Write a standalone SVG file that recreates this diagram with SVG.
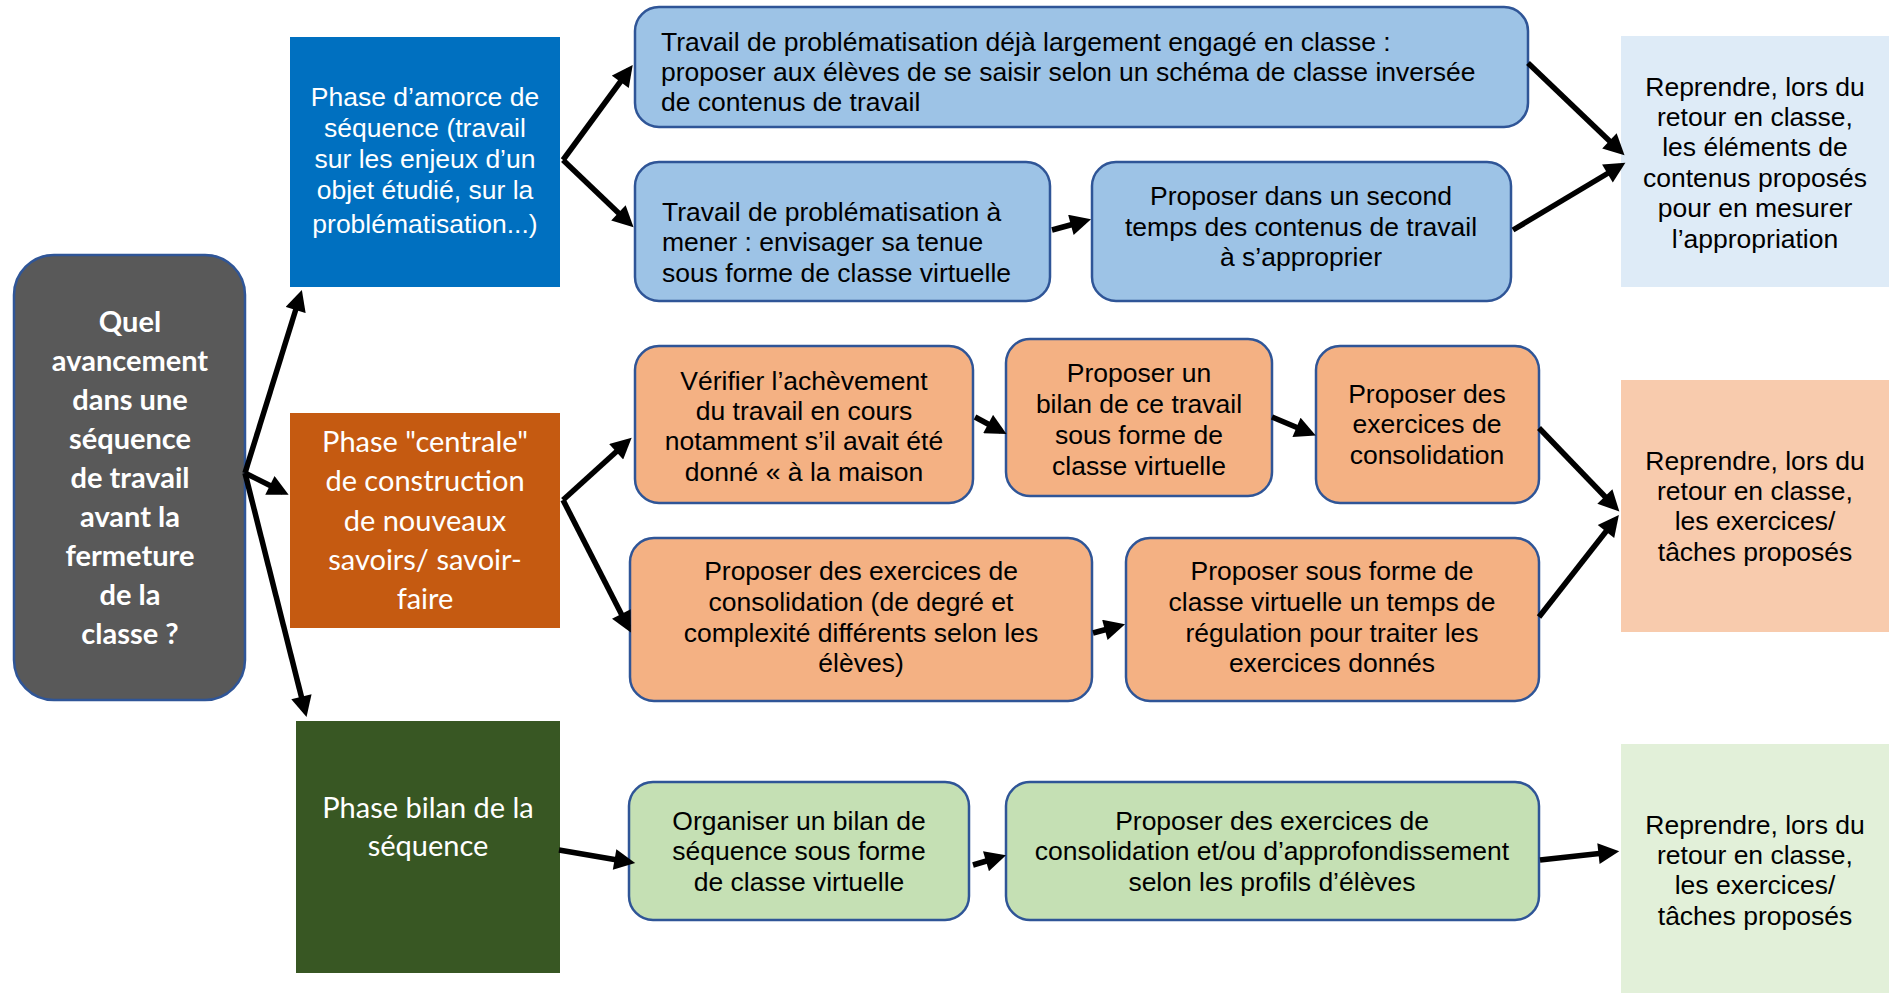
<svg xmlns="http://www.w3.org/2000/svg" width="1889" height="993" viewBox="0 0 1889 993">
<style>
.t{font-family:"Liberation Sans",Arial,sans-serif;font-size:26.5px;fill:#000}
.c{text-anchor:middle}
.w{fill:#fff}
.cal{font-family:Lato,"Open Sans",sans-serif;font-size:29px;fill:#fff;text-anchor:middle}
.b{font-weight:bold}
.rb{stroke:#2F5597;stroke-width:2.5}
.blue{fill:#9DC3E6}
.org{fill:#F4B183}
.grn{fill:#C5E0B4}
.conn line{stroke:#000;stroke-width:5.5;marker-end:url(#ah)}
</style>
<defs>
<marker id="ah" viewBox="0 0 10 10" refX="7" refY="5" markerWidth="4" markerHeight="3.8" orient="auto" markerUnits="strokeWidth">
<path d="M0,0 L10,5 L0,10 z" fill="#000"/>
</marker>
</defs>
<rect width="1889" height="993" fill="#fff"/>

<g id="q">
<rect x="14" y="255" width="231" height="445" rx="40" fill="#595959" class="rb"/>
<text class="cal b"><tspan x="130" y="332">Quel</tspan><tspan x="130" y="371">avancement</tspan><tspan x="130" y="410">dans une</tspan><tspan x="130" y="449">séquence</tspan><tspan x="130" y="488">de travail</tspan><tspan x="130" y="527">avant la</tspan><tspan x="130" y="566">fermeture</tspan><tspan x="130" y="605">de la</tspan><tspan x="130" y="644">classe ?</tspan></text>
</g>

<g id="phase1">
<rect x="290" y="37" width="270" height="250" fill="#0070C0"/>
<text class="t c w"><tspan x="425" y="106">Phase d’amorce de</tspan><tspan x="425" y="137">séquence (travail</tspan><tspan x="425" y="168">sur les enjeux d’un</tspan><tspan x="425" y="199">objet étudié, sur la</tspan><tspan x="425" y="233">problématisation...)</tspan></text>
</g>

<g id="phase2">
<rect x="290" y="413" width="270" height="215" fill="#C55A11"/>
<text class="cal"><tspan x="425" y="452">Phase "centrale"</tspan><tspan x="425" y="491">de construction</tspan><tspan x="425" y="531">de nouveaux</tspan><tspan x="425" y="570">savoirs/ savoir-</tspan><tspan x="425" y="609">faire</tspan></text>
</g>

<g id="phase3">
<rect x="296" y="721" width="264" height="252" fill="#385723"/>
<text class="cal"><tspan x="428" y="818">Phase bilan de la</tspan><tspan x="428" y="856">séquence</tspan></text>
</g>

<g id="b1">
<rect x="635" y="7" width="893" height="120" rx="24" class="blue rb"/>
<text class="t"><tspan x="661" y="51">Travail de problématisation déjà largement engagé en classe :</tspan><tspan x="661" y="81">proposer aux élèves de se saisir selon un schéma de classe inversée</tspan><tspan x="661" y="111">de contenus de travail</tspan></text>
</g>

<g id="b2">
<rect x="635" y="162" width="415" height="139" rx="24" class="blue rb"/>
<text class="t"><tspan x="662" y="221">Travail de problématisation à</tspan><tspan x="662" y="251">mener : envisager sa tenue</tspan><tspan x="662" y="282">sous forme de classe virtuelle</tspan></text>
</g>

<g id="b3">
<rect x="1092" y="162" width="419" height="139" rx="24" class="blue rb"/>
<text class="t c"><tspan x="1301" y="205">Proposer dans un second</tspan><tspan x="1301" y="236">temps des contenus de travail</tspan><tspan x="1301" y="266">à s’approprier</tspan></text>
</g>

<g id="r1">
<rect x="1621" y="36" width="268" height="251" fill="#DEEBF7"/>
<text class="t c"><tspan x="1755" y="96">Reprendre, lors du</tspan><tspan x="1755" y="126">retour en classe,</tspan><tspan x="1755" y="156">les éléments de</tspan><tspan x="1755" y="187">contenus proposés</tspan><tspan x="1755" y="217">pour en mesurer</tspan><tspan x="1755" y="248">l’appropriation</tspan></text>
</g>

<g id="o1">
<rect x="635" y="346" width="338" height="157" rx="24" class="org rb"/>
<text class="t c"><tspan x="804" y="390">Vérifier l’achèvement</tspan><tspan x="804" y="420">du travail en cours</tspan><tspan x="804" y="450">notamment s’il avait été</tspan><tspan x="804" y="481">donné « à la maison</tspan></text>
</g>

<g id="o2">
<rect x="1006" y="339" width="266" height="157" rx="24" class="org rb"/>
<text class="t c"><tspan x="1139" y="382">Proposer un</tspan><tspan x="1139" y="413">bilan de ce travail</tspan><tspan x="1139" y="444">sous forme de</tspan><tspan x="1139" y="475">classe virtuelle</tspan></text>
</g>

<g id="o3">
<rect x="1316" y="346" width="223" height="157" rx="24" class="org rb"/>
<text class="t c"><tspan x="1427" y="403">Proposer des</tspan><tspan x="1427" y="433">exercices de</tspan><tspan x="1427" y="464">consolidation</tspan></text>
</g>

<g id="o4">
<rect x="630" y="538" width="462" height="163" rx="24" class="org rb"/>
<text class="t c"><tspan x="861" y="580">Proposer des exercices de</tspan><tspan x="861" y="611">consolidation (de degré et</tspan><tspan x="861" y="642">complexité différents selon les</tspan><tspan x="861" y="672">élèves)</tspan></text>
</g>

<g id="o5">
<rect x="1126" y="538" width="413" height="163" rx="24" class="org rb"/>
<text class="t c"><tspan x="1332" y="580">Proposer sous forme de</tspan><tspan x="1332" y="611">classe virtuelle un temps de</tspan><tspan x="1332" y="642">régulation pour traiter les</tspan><tspan x="1332" y="672">exercices donnés</tspan></text>
</g>

<g id="r2">
<rect x="1621" y="380" width="268" height="252" fill="#F8CBAD"/>
<text class="t c"><tspan x="1755" y="470">Reprendre, lors du</tspan><tspan x="1755" y="500">retour en classe,</tspan><tspan x="1755" y="530">les exercices/</tspan><tspan x="1755" y="561">tâches proposés</tspan></text>
</g>

<g id="g1">
<rect x="629" y="782" width="340" height="138" rx="24" class="grn rb"/>
<text class="t c"><tspan x="799" y="830">Organiser un bilan de</tspan><tspan x="799" y="860">séquence sous forme</tspan><tspan x="799" y="891">de classe virtuelle</tspan></text>
</g>

<g id="g2">
<rect x="1006" y="782" width="533" height="138" rx="24" class="grn rb"/>
<text class="t c"><tspan x="1272" y="830">Proposer des exercices de</tspan><tspan x="1272" y="860">consolidation et/ou d’approfondissement</tspan><tspan x="1272" y="891">selon les profils d’élèves</tspan></text>
</g>

<g id="r3">
<rect x="1621" y="744" width="268" height="249" fill="#E2F0D9"/>
<text class="t c"><tspan x="1755" y="834">Reprendre, lors du</tspan><tspan x="1755" y="864">retour en classe,</tspan><tspan x="1755" y="894">les exercices/</tspan><tspan x="1755" y="925">tâches proposés</tspan></text>
</g>

<g class="conn" id="connectors">
<line x1="245" y1="473" x2="300" y2="296"/>
<line x1="245" y1="473" x2="283" y2="492"/>
<line x1="245" y1="473" x2="305" y2="711"/>
<line x1="563" y1="160" x2="629" y2="70"/>
<line x1="563" y1="160" x2="629" y2="223"/>
<line x1="1052" y1="230" x2="1085" y2="221"/>
<line x1="1528" y1="63" x2="1620" y2="151"/>
<line x1="1513" y1="230" x2="1620" y2="166"/>
<line x1="563" y1="500" x2="627" y2="442"/>
<line x1="563" y1="500" x2="628" y2="627"/>
<line x1="975" y1="417" x2="1001" y2="431"/>
<line x1="1272" y1="417" x2="1310" y2="433"/>
<line x1="1539" y1="428" x2="1615" y2="507"/>
<line x1="1093" y1="633" x2="1119" y2="626"/>
<line x1="1539" y1="617" x2="1615" y2="520"/>
<line x1="559" y1="850" x2="629" y2="862"/>
<line x1="973" y1="865" x2="1000" y2="857"/>
<line x1="1540" y1="860" x2="1613" y2="852"/>
</g>
</svg>
